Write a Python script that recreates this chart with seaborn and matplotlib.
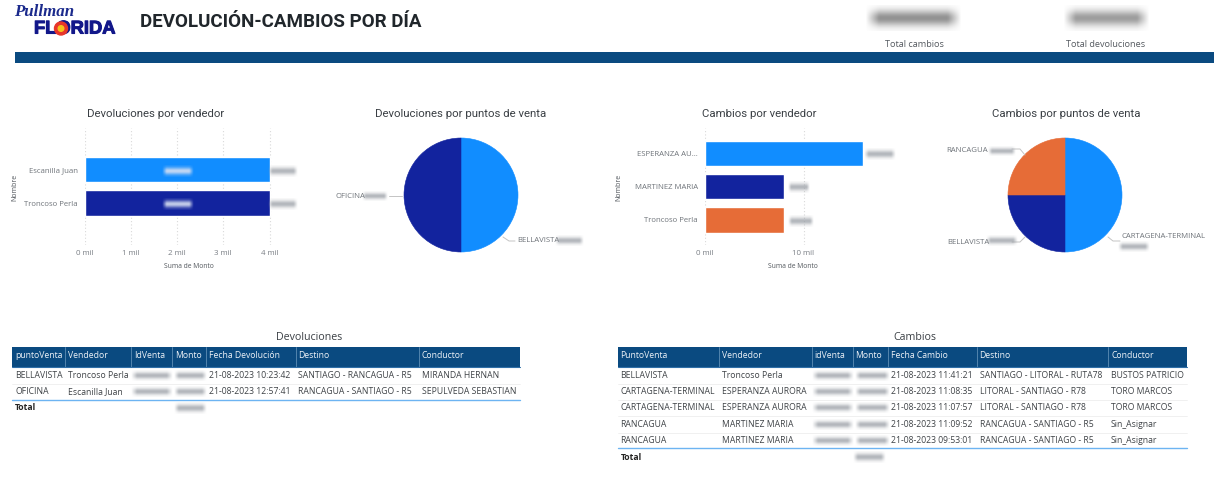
import numpy as np
import pandas as pd
import matplotlib
matplotlib.use("Agg")
import matplotlib.pyplot as plt
import matplotlib.patheffects as pe
from matplotlib.patches import Rectangle, Circle
import seaborn as sns

W, H = 1231, 499
sns.set_theme(style="white")
BODY = ["Open Sans", "DejaVu Sans"]
HEAD = ["Roboto", "DejaVu Sans"]
plt.rcParams["font.family"] = BODY

C_BLUE, C_NAVY, C_ORANGE = "#118DFF", "#12239E", "#E66C37"
C_HEAD = "#0A4A80"

# data -------------------------------------------------------------------
dev_vend = ["Escanilla Juan", "Troncoso Perla"]
dev_vend_monto = [4.0, 4.0]
dev_pv = ["BELLAVISTA", "OFICINA"]
dev_pv_monto = [4.0, 4.0]
cam_vend = ["ESPERANZA AU...", "MARTINEZ MARIA", "Troncoso Perla"]
cam_vend_monto = [16.0, 8.0, 8.0]
cam_pv = ["CARTAGENA-TERMINAL", "BELLAVISTA", "RANCAGUA"]
cam_pv_monto = [16.0, 8.0, 8.0]

dev_cols = ["puntoVenta", "Vendedor", "IdVenta", "Monto", "Fecha Devolución", "Destino", "Conductor"]
dev_rows = [
    ["BELLAVISTA", "Troncoso Perla", "", "", "21-08-2023 10:23:42", "SANTIAGO - RANCAGUA - R5", "MIRANDA HERNAN"],
    ["OFICINA", "Escanilla Juan", "", "", "21-08-2023 12:57:41", "RANCAGUA - SANTIAGO - R5", "SEPULVEDA SEBASTIAN"],
]
cam_cols = ["PuntoVenta", "Vendedor", "idVenta", "Monto", "Fecha Cambio", "Destino", "Conductor"]
cam_rows = [
    ["BELLAVISTA", "Troncoso Perla", "", "", "21-08-2023 11:41:21", "SANTIAGO - LITORAL - RUTA78", "BUSTOS PATRICIO"],
    ["CARTAGENA-TERMINAL", "ESPERANZA AURORA", "", "", "21-08-2023 11:08:35", "LITORAL - SANTIAGO - R78", "TORO MARCOS"],
    ["CARTAGENA-TERMINAL", "ESPERANZA AURORA", "", "", "21-08-2023 11:07:57", "LITORAL - SANTIAGO - R78", "TORO MARCOS"],
    ["RANCAGUA", "MARTINEZ MARIA", "", "", "21-08-2023 11:09:52", "RANCAGUA - SANTIAGO - R5", "Sin_Asignar"],
    ["RANCAGUA", "MARTINEZ MARIA", "", "", "21-08-2023 09:53:01", "RANCAGUA - SANTIAGO - R5", "Sin_Asignar"],
]

# figure -----------------------------------------------------------------
fig = plt.figure(figsize=(W / 100, H / 100), dpi=100, facecolor="white")


def px_axes(x0, y0, x1, y1, **kw):
    return fig.add_axes([x0 / W, 1 - y1 / H, (x1 - x0) / W, (y1 - y0) / H], **kw)


ov = fig.add_axes([0, 0, 1, 1], zorder=10)
ov.set_xlim(0, W)
ov.set_ylim(H, 0)
ov.axis("off")
ov.patch.set_alpha(0)


def smear(x0, x1, yc, h=7, color=(0.6, 0.62, 0.65), a=0.75):
    nx, ny = 60, 24
    xs = np.linspace(-1, 1, nx)
    ys = np.linspace(-1, 1, ny)
    ax_ = np.clip((1 - np.abs(xs)) * 3.5, 0, 1)
    ay_ = np.exp(-(ys * 1.6) ** 2)
    img = np.zeros((ny, nx, 4))
    img[..., :3] = color
    img[..., 3] = a * np.outer(ay_, ax_)
    ov.imshow(img, extent=(x0, x1, yc + h, yc - h), aspect="auto", interpolation="bilinear", zorder=6)


def bar_panel(box, cats, vals, colors, xlim, ticks, title, title_x, name_x):
    ax = px_axes(*box)
    df = pd.DataFrame({"Nombre": cats, "Monto": vals})
    sns.barplot(data=df, y="Nombre", x="Monto", hue="Nombre", palette=colors, dodge=False,
                legend=False, width=0.76, ax=ax, zorder=3, saturation=1)
    ax.set_xlim(*xlim)
    ax.set_xticks(ticks)
    ax.set_xticklabels([f"{t:.0f} mil" for t in ticks], fontsize=5.7, color="#7a7f85")
    ax.tick_params(axis="y", labelsize=5.6, labelcolor="#6f747a", length=0, pad=5)
    ax.tick_params(axis="x", length=0, pad=3.5)
    ax.set_xlabel("")
    ax.set_ylabel("")
    ax.grid(axis="x", color="#d9d9d9", linestyle=(0, (1, 2)), linewidth=0.8, zorder=0)
    ax.grid(axis="y", visible=False)
    for s in ax.spines.values():
        s.set_visible(False)
    ov.text(title_x, 113.5, title, ha="center", va="center", fontsize=8.2, color="#3a3f44", family=HEAD)
    ov.text(name_x, 187.5, "Nombre", rotation=90, ha="center", va="center", fontsize=5.0, color="#50555b")
    ov.text(name_x + 173.5, 266, "Suma de Monto", ha="center", va="center", fontsize=4.9, color="#50555b")
    return ax


bar_panel((84.5, 128, 284.5, 245), dev_vend, dev_vend_monto, [C_BLUE, C_NAVY], (0, 200 / 46.25),
          [0, 1, 2, 3, 4], "Devoluciones por vendedor", 156, 15).set_ylim(2.25, -1.24)
bar_panel((705, 128, 879.5, 245), cam_vend, cam_vend_monto, [C_BLUE, C_NAVY, C_ORANGE],
          (0, 174.5 / 9.85), [0, 10], "Cambios por vendedor", 759, 619).set_ylim(2.75, -0.76)


def pie_panel(cx, cy, r, vals, colors, title, title_x):
    ax = px_axes(cx - r, cy - r, cx + r, cy + r)
    wedges, _ = ax.pie(vals, colors=colors, startangle=90, counterclock=False, radius=1.0)
    for w in wedges:
        w.set_edgecolor(w.get_facecolor())
        w.set_linewidth(0.4)
    ax.set_xlim(-1, 1)
    ax.set_ylim(-1, 1)
    ov.text(title_x, 113.5, title, ha="center", va="center", fontsize=8.2, color="#3a3f44", family=HEAD)


pie_panel(461, 195, 57, dev_pv_monto, [C_BLUE, C_NAVY], "Devoluciones por puntos de venta", 461)
pie_panel(1065, 195, 57, cam_pv_monto, [C_BLUE, C_NAVY, C_ORANGE], "Cambios por puntos de venta", 1066)

# pie labels
lab = dict(fontsize=5.6, color="#6f747a", va="center")
ov.text(335, 196, dev_pv[1], ha="left", **lab)
ov.plot([389, 402], [196, 196], color="#c4c4c4", lw=0.7)
smear(362, 388, 196, h=5)
ov.text(517, 241, dev_pv[0], ha="left", **lab)
ov.plot([503, 509, 515], [237, 241, 241], color="#c4c4c4", lw=0.7)
smear(555, 584, 241, h=5)
ov.text(946, 151, cam_pv[2], ha="left", **lab)
ov.plot([1012, 1020, 1025], [149, 149, 155], color="#c4c4c4", lw=0.7)
smear(988, 1016, 151, h=5)
ov.text(947, 242, cam_pv[1], ha="left", **lab)
ov.plot([1012, 1020, 1025], [242, 242, 237], color="#c4c4c4", lw=0.7)
smear(986, 1018, 241, h=5)
ov.text(1122, 236, cam_pv[0], ha="left", **lab)
ov.plot([1108, 1113, 1120], [237, 241, 241], color="#c4c4c4", lw=0.7)
smear(1118, 1150, 247, h=5)

# smeared values on the bars
for x0, x1, y in [(162, 194, 171), (162, 194, 204)]:
    smear(x0, x1, y, h=6, color=(0.85, 0.88, 0.95), a=0.9)
for x0, x1, y in [(268, 298, 171), (268, 298, 204), (864, 896, 154), (788, 810, 187), (788, 814, 221)]:
    smear(x0, x1, y, h=6)

# header
ov.add_patch(Rectangle((15, 52), 1198.5, 11, color=C_HEAD, lw=0))
ov.text(140, 22, "DEVOLUCIÓN-CAMBIOS POR DÍA", ha="left", va="center", fontsize=13.5,
        color="#20262b", family=HEAD, weight="bold")
ov.text(14, 11.5, "Pullman", ha="left", va="center", fontsize=12.2, color="#1b2a8c",
        family=["Liberation Serif", "DejaVu Serif"], style="italic", weight="bold")
t = ov.text(34, 29, "FLORIDA", ha="left", va="center", fontsize=13.2, color="#12178a",
            family=["Liberation Sans", "DejaVu Sans"], weight="bold")
t.set_path_effects([pe.withStroke(linewidth=0.8, foreground="#12178a")])
ov.add_patch(Circle((61, 28.5), 6.5, color="#e8362a", zorder=5))
ov.add_patch(Circle((61, 28.5), 2.8, color="#f6c21c", zorder=6))
ov.text(914, 44, "Total cambios", ha="center", va="center", fontsize=6.6, color="#555a60")
ov.text(1106, 44, "Total devoluciones", ha="center", va="center", fontsize=6.6, color="#555a60")
smear(865, 962, 18, h=13, color=(0.5, 0.5, 0.5), a=0.85)
smear(1063, 1150, 18, h=13, color=(0.55, 0.55, 0.55), a=0.85)


def table(title, title_x, cols, rows, edges, row_y, line_y, total_y, total_x):
    ov.text(title_x, 337, title, ha="center", va="center", fontsize=7.7, color="#3a3f44")
    ov.add_patch(Rectangle((edges[0], 346.5), edges[-1] - edges[0], 20.5, color=C_HEAD, lw=0))
    for e in edges[1:-1]:
        ov.plot([e, e], [346.5, 367], color="#5d8db5", lw=0.6)
    ov.plot([edges[0], edges[-1]], [367, 367], color="#2f6fa8", lw=0.8)
    for e, c in zip(edges, cols):
        ov.text(e + 3, 355, c, ha="left", va="center", fontsize=6.2, color="#eef3f8")
    for i, (y, r) in enumerate(zip(row_y, rows)):
        for e, c in zip(edges, r):
            if c:
                ov.text(e + 3, y, c, ha="left", va="center", fontsize=6.2, color="#3f4347")
        smear(edges[2] + 0, edges[3] + 1, y, h=5.5)
        smear(edges[3] + 2, edges[4] + 1, y, h=5.5)
        if i < len(rows) - 1:
            ov.plot([edges[0], edges[-1]], [y + 8] * 2, color="#eeeeee", lw=0.6)
    ov.plot([edges[0], edges[-1]], [line_y, line_y], color="#6db4f2", lw=1.0)
    ov.text(edges[0] + 3, total_y, "Total", ha="left", va="center", fontsize=6.2, color="#252423", weight="bold")
    smear(total_x, total_x + 33, total_y, h=6)


table("Devoluciones", 309, dev_cols, dev_rows, [12, 65, 131, 172, 206, 295.5, 419, 519.5],
      [376, 392], 400, 408, 174)
table("Cambios", 915, cam_cols, cam_rows, [617.5, 719, 811.5, 852.5, 888, 976.5, 1108, 1186.5],
      [376, 392, 407.5, 424.5, 440.5], 448, 457, 853)

ov.set_xlim(0, W)
ov.set_ylim(H, 0)
fig.savefig("out.png", dpi=100)
